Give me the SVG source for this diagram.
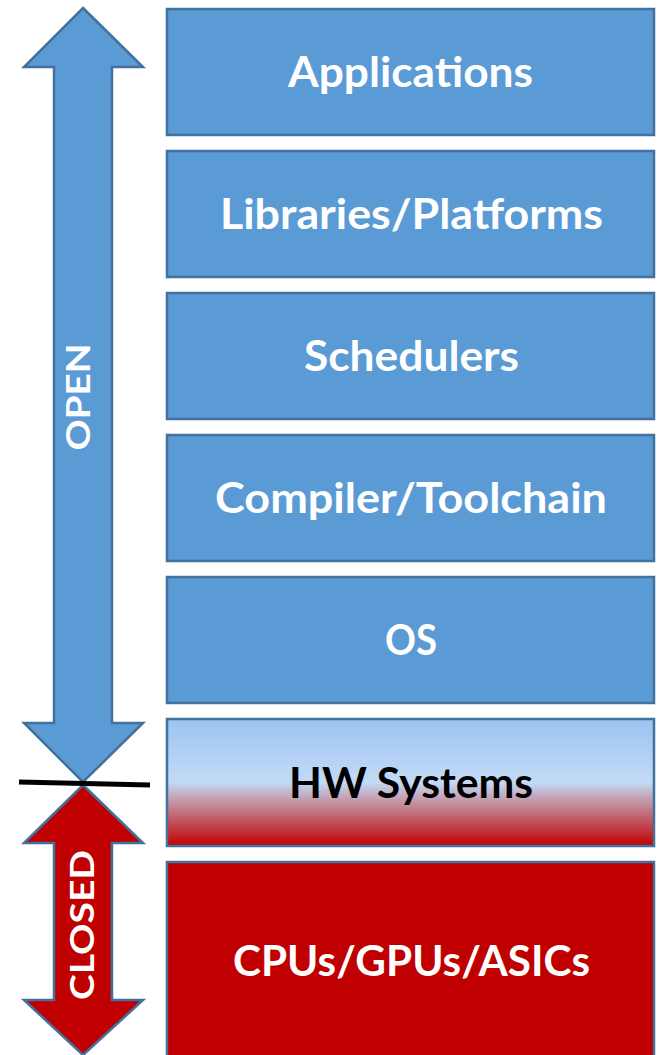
<svg xmlns="http://www.w3.org/2000/svg" width="659" height="1055" viewBox="0 0 659 1055">
<style>
.box{fill:#5B9BD5;stroke:#41719C;stroke-width:2.5}
.red{fill:#C00000;stroke:#41719C;stroke-width:2.5}
.t{font-family:Lato,"Liberation Sans",sans-serif;font-weight:bold;font-size:42px;fill:#fff;text-anchor:middle}
.v{font-family:Lato,"Liberation Sans",sans-serif;font-weight:bold;font-size:32px;fill:#fff;text-anchor:middle}
</style>
<defs>
<linearGradient id="hw" x1="0" y1="0" x2="0" y2="1">
<stop offset="0" stop-color="#9CC3F1"/>
<stop offset="0.5" stop-color="#C3DAF6"/>
<stop offset="0.62" stop-color="#C3A3B6"/>
<stop offset="1" stop-color="#C00000"/>
</linearGradient>
</defs>
<g id="open-arrow">
<polygon class="box" points="83,8 143,67 112,67 112,723 143,723 83,782 24,723 54,723 54,67 24,67"/>
<text class="v" transform="translate(90,397) rotate(-90)" textLength="107" lengthAdjust="spacingAndGlyphs">OPEN</text>
</g>
<g id="closed-arrow">
<polygon class="red" points="83,785 143,843 112,843 112,1000 143,1000 83,1055 24,1000 54,1000 54,843 24,843"/>
<text class="v" transform="translate(94,925) rotate(-90)" textLength="150" lengthAdjust="spacingAndGlyphs">CLOSED</text>
</g>
<g id="divider">
<line x1="19" y1="782" x2="150" y2="785" stroke="#000" stroke-width="5"/>
</g>
<g id="applications">
<rect class="box" x="167" y="9" width="487" height="126"/>
<text class="t" x="410.5" y="87" textLength="245" lengthAdjust="spacingAndGlyphs">Applications</text>
</g>
<g id="libraries">
<rect class="box" x="167" y="151" width="487" height="126"/>
<text class="t" x="411.5" y="229" textLength="383" lengthAdjust="spacingAndGlyphs">Libraries/Platforms</text>
</g>
<g id="schedulers">
<rect class="box" x="167" y="293" width="487" height="126"/>
<text class="t" x="411.5" y="371" textLength="215" lengthAdjust="spacingAndGlyphs">Schedulers</text>
</g>
<g id="compiler">
<rect class="box" x="167" y="435" width="487" height="126"/>
<text class="t" x="411" y="513" textLength="392" lengthAdjust="spacingAndGlyphs">Compiler/Toolchain</text>
</g>
<g id="os">
<rect class="box" x="167" y="577" width="487" height="126"/>
<text class="t" x="411" y="655" textLength="52" lengthAdjust="spacingAndGlyphs">OS</text>
</g>
<g id="hw-systems">
<rect x="167" y="719" width="487" height="127" fill="url(#hw)" stroke="#41719C" stroke-width="2.5"/>
<text class="t" x="411" y="798" textLength="244" lengthAdjust="spacingAndGlyphs" style="fill:#000">HW Systems</text>
</g>
<g id="cpus">
<rect class="red" x="167" y="862" width="487" height="200"/>
<text class="t" x="411.5" y="976" textLength="357" lengthAdjust="spacingAndGlyphs">CPUs/GPUs/ASICs</text>
</g>
</svg>
